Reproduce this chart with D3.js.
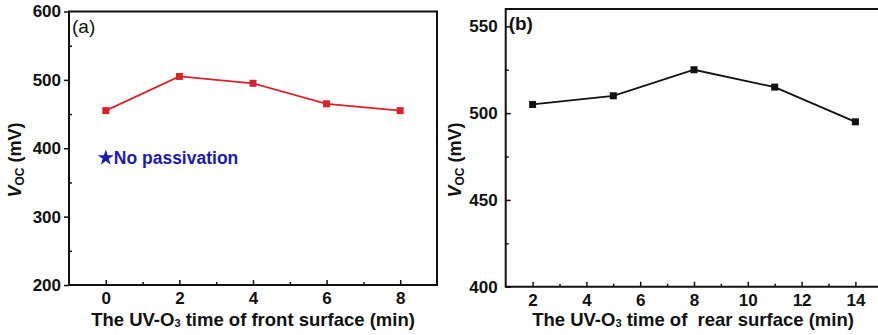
<!DOCTYPE html>
<html><head><meta charset="utf-8">
<script src="https://cdn.jsdelivr.net/npm/d3@7"></script>
<style>body{margin:0;background:#fff}svg{display:block}text{font-family:"Liberation Sans",Arial,sans-serif}</style>
</head><body>
<svg id="c" width="878" height="335"></svg>
<script>
// Panel (a)
const timeFront = [0, 2, 4, 6, 8];
const vocFront = [455, 505, 495, 465, 455];
const noPassivationTime = 0;
const noPassivationVoc = 386;
const xTicksA = [0, 2, 4, 6, 8];
const yTicksA = [200, 300, 400, 500, 600];
// Panel (b)
const timeRear = [2, 5, 8, 11, 14];
const vocRear = [505, 510, 525, 515, 495];
const xTicksB = [2, 4, 6, 8, 10, 12, 14];
const yTicksB = [400, 450, 500, 550];

const svg = d3.select("#c");
const F = '"Liberation Sans",Arial,sans-serif';

function panel(o) {
  const g = svg.append("g");
  const x = d3.scaleLinear().domain(o.xd).range([o.l, o.r]);
  const y = d3.scaleLinear().domain(o.yd).range([o.b, o.t]);
  g.append("path").attr("d", `M${o.l},${o.t}H${o.r}V${o.b}H${o.l}Z`)
    .attr("fill", "none").attr("stroke", "#111").attr("stroke-width", 2);
  // x axis
  const xa = g.append("g").attr("transform", `translate(0,${o.b})`)
    .call(d3.axisBottom(x).tickValues(o.xt).tickSize(-5).tickPadding(7).tickFormat(d3.format("d")));
  xa.select(".domain").remove();
  xa.selectAll("line").attr("stroke", "#111").attr("stroke-width", 1.5);
  xa.selectAll("text").attr("font-family", F).attr("font-size", 17).attr("font-weight", "bold").attr("fill", "#111");
  const xm = g.append("g").attr("transform", `translate(0,${o.b})`)
    .call(d3.axisBottom(x).tickValues(o.xminor).tickSize(-3).tickFormat(""));
  xm.select(".domain").remove();
  xm.selectAll("line").attr("stroke", "#111").attr("stroke-width", 1.5);
  // y axis
  const ya = g.append("g").attr("transform", `translate(${o.l},0)`)
    .call(d3.axisLeft(y).tickValues(o.yt).tickSize(o.yMajorOut ? 5 : -5).tickPadding(o.yMajorOut ? 3 : 8).tickFormat(d3.format("d")));
  ya.select(".domain").remove();
  ya.selectAll("line").attr("stroke", "#111").attr("stroke-width", 1.5);
  ya.selectAll("text").attr("font-family", F).attr("font-size", 17).attr("font-weight", "bold").attr("fill", "#111");
  const ym = g.append("g").attr("transform", `translate(${o.l},0)`)
    .call(d3.axisLeft(y).tickValues(o.yminor).tickSize(-3).tickFormat(""));
  ym.select(".domain").remove();
  ym.selectAll("line").attr("stroke", "#111").attr("stroke-width", 1.5);
  // line & markers
  const pts = o.xs.map((d, i) => [x(d), y(o.ys[i])]);
  g.append("path").attr("d", d3.line()(pts)).attr("fill", "none")
    .attr("stroke", o.color).attr("stroke-width", 1.8);
  g.selectAll("rect.m").data(pts).enter().append("rect")
    .attr("x", d => d[0] - 3.5).attr("y", d => d[1] - 3.5)
    .attr("width", 7).attr("height", 7).attr("fill", o.color);
  // panel label
  g.append("text").attr("x", o.l + 3).attr("y", o.t + 21).attr("font-family", F)
    .attr("font-size", 19).attr("font-weight", o.labBold ? "bold" : "normal").attr("fill", "#111").text(o.label);
  // y title
  const yt = g.append("text").attr("transform", `translate(${o.ytx},${o.ytcy}) rotate(-90)`)
    .attr("text-anchor", "middle").attr("font-family", F).attr("font-size", 18)
    .attr("font-weight", "bold").attr("fill", "#111");
  yt.append("tspan").attr("font-style", "italic").text("V");
  yt.append("tspan").attr("font-size", 12).attr("dy", 3).text("OC");
  yt.append("tspan").attr("dy", -3).text(" (mV)");
  // x title
  const xt = g.append("text").attr("x", o.xtcx).attr("y", 326).attr("text-anchor", "middle")
    .style("white-space", "pre")
    .attr("font-family", F).attr("font-size", 18.5).attr("font-weight", "bold").attr("fill", "#111");
  xt.append("tspan").text("The UV-O");
  xt.append("tspan").attr("font-size", 11).attr("dy", 1).text("3");
  xt.append("tspan").attr("dy", -1).text(o.xtitle);
  return {x, y, g};
}

const A = panel({
  l: 69, r: 437, t: 11.5, b: 285,
  xd: [-1, 9], yd: [200, 600], xt: xTicksA, xminor: [1, 3, 5, 7], yt: yTicksA,
  yminor: [250, 350, 450, 550], yMajorOut: true,
  xs: timeFront, ys: vocFront, color: "#d8232a", label: "(a)", labBold: false,
  ytx: 21, ytcy: 160, xtcx: 253, xtitle: " time of front surface (min)"
});
A.g.append("path").attr("d", d3.symbol(d3.symbolStar, 80)())
  .attr("transform", `translate(${A.x(noPassivationTime)},${A.y(noPassivationVoc)})`).attr("fill", "#1a1ab4");
A.g.append("text").attr("x", A.x(noPassivationTime) + 8).attr("y", A.y(noPassivationVoc) + 6)
  .attr("font-family", F).attr("font-size", 17.5).attr("font-weight", "bold").attr("fill", "#1a1ab4").text("No passivation");

panel({
  l: 505.7, r: 882.3, t: 9, b: 286.7,
  xd: [1, 15], yd: [400, 560], xt: xTicksB, xminor: [3, 5, 7, 9, 11, 13], yt: yTicksB,
  yminor: [425, 475, 525], yMajorOut: false,
  xs: timeRear, ys: vocRear, color: "#111", label: "(b)", labBold: true,
  ytx: 461, ytcy: 160, xtcx: 693, xtitle: " time of  rear surface (min)"
});
</script>
</body></html>
